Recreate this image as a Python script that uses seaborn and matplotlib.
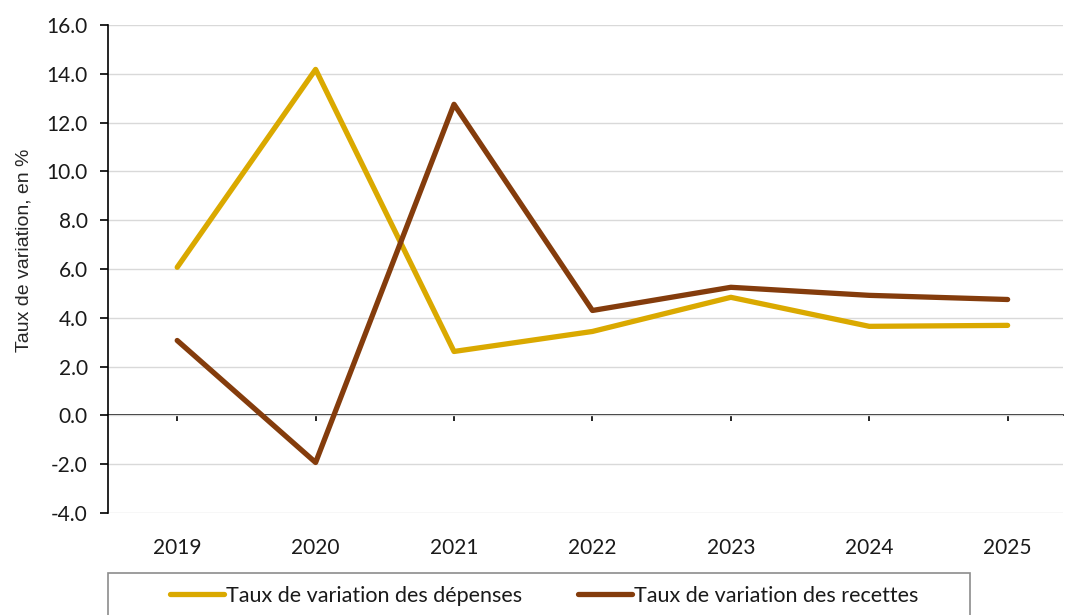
import numpy as np
import pandas as pd
import seaborn as sns
import matplotlib.pyplot as plt
from matplotlib.patches import Rectangle

# Data
years = ['2019', '2020', '2021', '2022', '2023', '2024', '2025']
depenses = [6.07, 14.18, 2.62, 3.44, 4.84, 3.65, 3.69]
recettes = [3.07, -1.93, 12.75, 4.30, 5.25, 4.92, 4.75]
series_names = ['Taux de variation des dépenses', 'Taux de variation des recettes']
colors = ['#DAA900', '#843C0C']

df = pd.DataFrame({'Année': years * 2,
                   'Valeur': depenses + recettes,
                   'Série': [series_names[0]] * 7 + [series_names[1]] * 7})

sns.set_style('white')
plt.rcParams['font.family'] = ['Lato', 'DejaVu Sans']
plt.rcParams['text.color'] = '#1A1A1A'
plt.rcParams['xtick.color'] = '#1A1A1A'
plt.rcParams['ytick.color'] = '#1A1A1A'

fig = plt.figure(figsize=(10.67, 6.15), dpi=100)
ax = fig.add_axes([108 / 1067, 1 - 513 / 615, (1063 - 108) / 1067, (513 - 25) / 615])

sns.lineplot(data=df, x='Année', y='Valeur', hue='Série', palette=colors,
             linewidth=3.8, sort=False, ax=ax, legend=False)

ax.set_ylim(-4, 16)
ax.set_yticks(np.arange(-4, 17, 2))
ax.set_yticklabels([f'{v:.1f}' for v in np.arange(-4, 17, 2)])
ax.set_xlim(-0.5, 6.4)
ax.grid(axis='y', color='#D9D9D9', linewidth=1)
ax.set_axisbelow(True)
for s in ['top', 'right', 'bottom']:
    ax.spines[s].set_visible(False)
ax.spines['left'].set_color('black')
ax.spines['left'].set_linewidth(1.2)
ax.tick_params(axis='y', direction='out', length=5.5, width=1.2, color='black',
               labelsize=15, pad=9, left=True)
ax.tick_params(axis='x', length=0, labelsize=15, pad=18)
ax.set_xlabel('')
ax.set_ylabel('Taux de variation, en %', fontsize=14, family='Liberation Sans')
ax.yaxis.set_label_coords(-0.079, 0.539)

# zero axis line with small ticks
zero = ax.secondary_xaxis(4 / 20)
zero.set_xticks(range(len(years)))
zero.tick_params(axis='x', direction='out', length=4, width=1.2, color='black',
                 labelbottom=False)
zero.spines['bottom'].set_color('black')
zero.spines['bottom'].set_linewidth(1.2)

# legend with frame at the bottom (cut by the image edge)
fig.patches.append(Rectangle((108 / 1067, -0.02), (970 - 108) / 1067, (615 - 573) / 615 + 0.02,
                             transform=fig.transFigure, fill=False,
                             edgecolor='#8C8C8C', linewidth=1.2))
handles = [plt.Line2D([], [], color=c, linewidth=3.8) for c in colors]
fig.legend(handles, series_names, loc='center', bbox_to_anchor=(544 / 1067, 1 - 596 / 615),
           ncol=2, frameon=False, fontsize=15.5, handlelength=2.5,
           handletextpad=0.1, columnspacing=2.6)

fig.savefig('out.png', dpi=100)
